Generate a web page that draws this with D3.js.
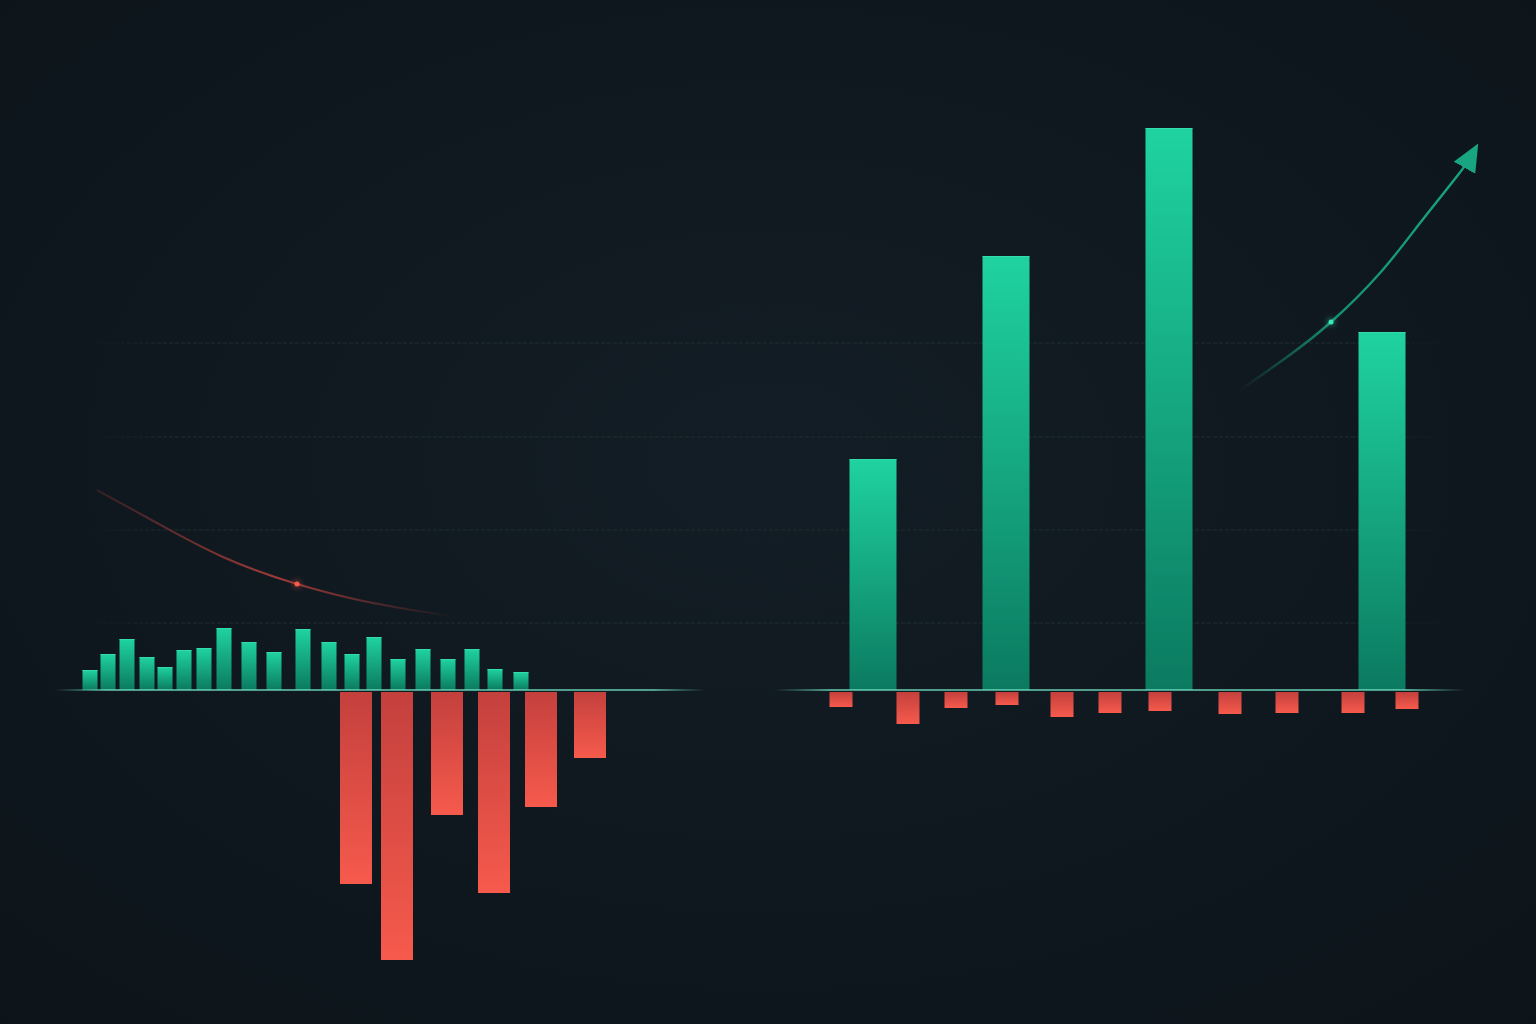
<!DOCTYPE html>
<html>
<head>
<meta charset="utf-8">
<script src="https://cdn.jsdelivr.net/npm/d3@7"></script>
<style>
  html, body { margin: 0; padding: 0; background: #0f1820; overflow: hidden; }
  svg { display: block; }
</style>
</head>
<body>
<svg id="chart" width="1536" height="1024"></svg>
<script>
// Datos del panel izquierdo (posición en el tiempo y valor)
const leftUpT    = [3.5, 5.3, 7.2, 9.2, 11.0, 12.9, 14.9, 16.9, 19.4, 21.9, 24.8, 27.4, 29.7, 31.9, 34.3, 36.8, 39.3, 41.7, 44.0, 46.6];
const leftUpVal  = [0.20, 0.36, 0.51, 0.33, 0.23, 0.40, 0.42, 0.62, 0.48, 0.38, 0.61, 0.48, 0.36, 0.53, 0.31, 0.41, 0.31, 0.41, 0.21, 0.18];
const leftDownT   = [30.1, 34.2, 39.2, 43.9, 48.6, 53.5];
const leftDownVal = [-1.94, -2.70, -1.25, -2.03, -1.17, -0.68];

// Datos del panel derecho
const rightUpT    = [9.8, 23.1, 39.4, 60.7];
const rightUpVal  = [2.31, 4.34, 5.62, 3.58];
const rightDownT   = [6.6, 13.3, 18.1, 23.2, 28.7, 33.5, 38.5, 45.5, 51.2, 57.8, 63.2];
const rightDownVal = [-0.17, -0.34, -0.18, -0.15, -0.27, -0.23, -0.21, -0.24, -0.23, -0.23, -0.19];

// Curvas de tendencia [t, valor]
const leftTrend  = [[4.2, 2.0], [10.2, 1.67], [16.8, 1.33], [24.2, 1.06], [31.8, 0.87], [40.2, 0.73]];
const leftTrendDot = [24.2, 1.06];
const rightTrend = [[46.5, 3.0], [51.2, 3.33], [55.6, 3.68], [60.5, 4.17], [64.5, 4.67], [68.3, 5.15], [69.5, 5.32]];
const rightTrendDot = [55.6, 3.68];

// Líneas de referencia
const gridVals = [0.67, 1.60, 2.53, 3.47];

const W = 1536, H = 1024;
const svg = d3.select("#chart");
const defs = svg.append("defs");

// Escalas
const y = d3.scaleLinear().domain([-3, 6]).range([990, 90]);
const xLeft = d3.scaleLinear().domain([0, 65]).range([55, 705]);
const xRight = d3.scaleLinear().domain([0, 70]).range([775, 1475]);

// Fondo con viñeta
const bg = defs.append("radialGradient").attr("id", "bg").attr("cx", "50%").attr("cy", "45%").attr("r", "75%");
bg.append("stop").attr("offset", "0%").attr("stop-color", "#131d25");
bg.append("stop").attr("offset", "100%").attr("stop-color", "#0c141a");
svg.append("rect").attr("width", W).attr("height", H).attr("fill", "url(#bg)");

// Degradados de barras
const gUp = defs.append("linearGradient").attr("id", "gUp").attr("x1", 0).attr("y1", 0).attr("x2", 0).attr("y2", 1);
gUp.append("stop").attr("offset", "0%").attr("stop-color", "#1fd3a0");
gUp.append("stop").attr("offset", "100%").attr("stop-color", "#0b7a60");
const gDown = defs.append("linearGradient").attr("id", "gDown").attr("x1", 0).attr("y1", 0).attr("x2", 0).attr("y2", 1);
gDown.append("stop").attr("offset", "0%").attr("stop-color", "#c4403d");
gDown.append("stop").attr("offset", "100%").attr("stop-color", "#f65a4c");

// Degradado horizontal que se desvanece en los extremos (en coordenadas de usuario)
const fadeGradient = (id, x1, x2, color, opacity, edge) => {
    const g = defs.append("linearGradient").attr("id", id)
        .attr("gradientUnits", "userSpaceOnUse")
        .attr("x1", x1).attr("x2", x2).attr("y1", 0).attr("y2", 0);
    g.append("stop").attr("offset", "0%").attr("stop-color", color).attr("stop-opacity", 0);
    g.append("stop").attr("offset", edge).attr("stop-color", color).attr("stop-opacity", opacity);
    g.append("stop").attr("offset", (100 - parseFloat(edge)) + "%").attr("stop-color", color).attr("stop-opacity", opacity);
    g.append("stop").attr("offset", "100%").attr("stop-color", color).attr("stop-opacity", 0);
};
fadeGradient("gBaseL", xLeft(0), xLeft(65), "#6fe0c2", 0.9, "8%");
fadeGradient("gBaseR", xRight(0), xRight(69), "#6fe0c2", 0.9, "8%");
fadeGradient("gGrid", xLeft(3), xRight(67.5), "#22393a", 0.65, "6%");

// Degradados de las curvas
const gRed = defs.append("linearGradient").attr("id", "gRed").attr("gradientUnits", "userSpaceOnUse")
    .attr("x1", xLeft(leftTrend[0][0])).attr("x2", xLeft(leftTrend[leftTrend.length - 1][0])).attr("y1", 0).attr("y2", 0);
gRed.append("stop").attr("offset", "0%").attr("stop-color", "#c0433c").attr("stop-opacity", 0.2);
gRed.append("stop").attr("offset", "50%").attr("stop-color", "#c0433c").attr("stop-opacity", 0.8);
gRed.append("stop").attr("offset", "100%").attr("stop-color", "#c0433c").attr("stop-opacity", 0);

const gGreen = defs.append("linearGradient").attr("id", "gGreen").attr("gradientUnits", "userSpaceOnUse")
    .attr("x1", xRight(rightTrend[0][0])).attr("x2", xRight(rightTrend[rightTrend.length - 1][0])).attr("y1", 0).attr("y2", 0);
gGreen.append("stop").attr("offset", "0%").attr("stop-color", "#17a582").attr("stop-opacity", 0);
gGreen.append("stop").attr("offset", "40%").attr("stop-color", "#17a582").attr("stop-opacity", 0.85);
gGreen.append("stop").attr("offset", "100%").attr("stop-color", "#17a582").attr("stop-opacity", 1);

// Filtro de brillo
const glow = defs.append("filter").attr("id", "glow").attr("x", "-200%").attr("y", "-200%").attr("width", "500%").attr("height", "500%");
glow.append("feGaussianBlur").attr("stdDeviation", 3).attr("result", "b");
const merge = glow.append("feMerge");
merge.append("feMergeNode").attr("in", "b");
merge.append("feMergeNode").attr("in", "SourceGraphic");

// Punta de flecha
defs.append("marker")
    .attr("id", "arrow")
    .attr("viewBox", "0 0 10 10")
    .attr("refX", 4).attr("refY", 5)
    .attr("markerWidth", 28).attr("markerHeight", 28)
    .attr("markerUnits", "userSpaceOnUse")
    .attr("orient", "auto")
    .append("path")
    .attr("d", "M0,0.6 L10,5 L0,9.4 z")
    .attr("fill", "#17a582");

// Líneas de referencia horizontales
svg.append("g")
    .selectAll("line")
    .data(gridVals)
    .join("line")
    .attr("x1", xLeft(3)).attr("x2", xRight(67.5))
    .attr("y1", d => y(d)).attr("y2", d => y(d))
    .attr("stroke", "url(#gGrid)")
    .attr("stroke-width", 1)
    .attr("stroke-dasharray", "4,2");

// Función para dibujar barras
const drawBars = (xs, vals, xScale, width, fill) => {
    const data = xs.map((t, i) => ({ t, v: vals[i] }));
    svg.append("g")
        .selectAll("rect")
        .data(data)
        .join("rect")
        .attr("x", d => xScale(d.t) - width / 2)
        .attr("y", d => d.v >= 0 ? y(d.v) : y(0) + 2)
        .attr("width", width)
        .attr("height", d => Math.abs(y(d.v) - y(0)) - (d.v < 0 ? 2 : 0))
        .attr("fill", fill);
    // Borde superior claro en las barras verdes
    if (fill === "url(#gUp)") {
        svg.append("g")
            .selectAll("line")
            .data(data)
            .join("line")
            .attr("x1", d => xScale(d.t) - width / 2)
            .attr("x2", d => xScale(d.t) + width / 2)
            .attr("y1", d => y(d.v) + 0.5)
            .attr("y2", d => y(d.v) + 0.5)
            .attr("stroke", "#3de0b0")
            .attr("stroke-opacity", 0.7);
    }
};

// Panel izquierdo
drawBars(leftDownT, leftDownVal, xLeft, 32, "url(#gDown)");
drawBars(leftUpT, leftUpVal, xLeft, 15, "url(#gUp)");

// Panel derecho
drawBars(rightDownT, rightDownVal, xRight, 23, "url(#gDown)");
drawBars(rightUpT, rightUpVal, xRight, 47, "url(#gUp)");

// Líneas base
svg.append("line")
    .attr("x1", xLeft(0)).attr("x2", xLeft(65))
    .attr("y1", y(0)).attr("y2", y(0))
    .attr("stroke", "url(#gBaseL)")
    .attr("stroke-width", 1.6);
svg.append("line")
    .attr("x1", xRight(0)).attr("x2", xRight(69))
    .attr("y1", y(0)).attr("y2", y(0))
    .attr("stroke", "url(#gBaseR)")
    .attr("stroke-width", 1.6);

// Curva roja descendente
const lineLeft = d3.line().x(d => xLeft(d[0])).y(d => y(d[1])).curve(d3.curveNatural);
svg.append("path")
    .datum(leftTrend)
    .attr("d", lineLeft)
    .attr("fill", "none")
    .attr("stroke", "url(#gRed)")
    .attr("stroke-width", 2);
svg.append("circle")
    .attr("cx", xLeft(leftTrendDot[0]))
    .attr("cy", y(leftTrendDot[1]))
    .attr("r", 2.5)
    .attr("fill", "#ff5a48")
    .attr("filter", "url(#glow)");

// Curva verde ascendente con flecha
const lineRight = d3.line().x(d => xRight(d[0])).y(d => y(d[1])).curve(d3.curveNatural);
svg.append("path")
    .datum(rightTrend)
    .attr("d", lineRight)
    .attr("fill", "none")
    .attr("stroke", "url(#gGreen)")
    .attr("stroke-width", 2.4)
    .attr("marker-end", "url(#arrow)");
svg.append("circle")
    .attr("cx", xRight(rightTrendDot[0]))
    .attr("cy", y(rightTrendDot[1]))
    .attr("r", 2.5)
    .attr("fill", "#3de8b8")
    .attr("filter", "url(#glow)");
</script>
</body>
</html>
